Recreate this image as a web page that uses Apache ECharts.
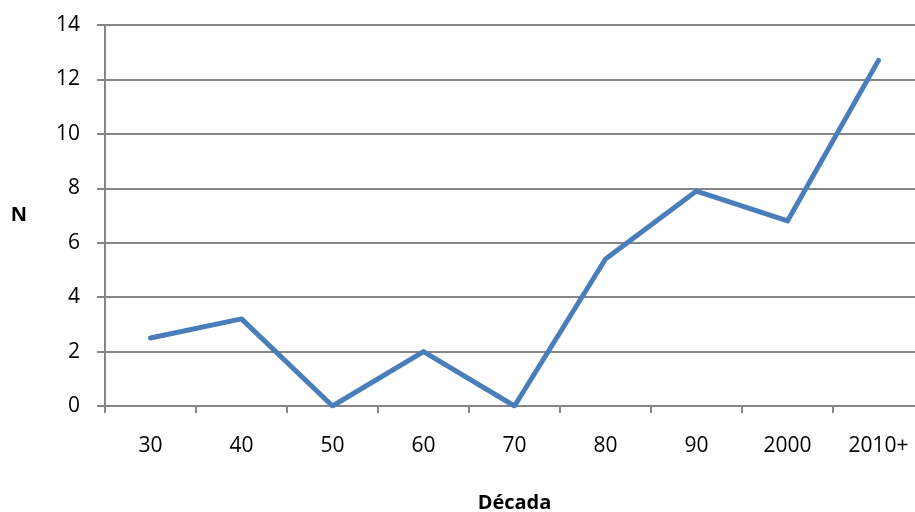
<!DOCTYPE html>
<html><head><meta charset="utf-8">
<script src="https://cdn.jsdelivr.net/npm/echarts@6/dist/echarts.min.js"></script>
<style>html,body{margin:0;padding:0;background:#fff}#c{width:915px;height:512px}</style>
</head><body><div id="c"></div>
<script>
const categories = ['30','40','50','60','70','80','90','2000','2010+'];
const values = [2.5, 3.2, 0, 2, 0, 5.4, 7.9, 6.8, 12.7];
const yTicks = {min: 0, max: 14, interval: 2};
const xTitle = 'Década';
const yTitle = 'N';

const chart = echarts.init(document.getElementById('c'), null, {renderer: 'canvas'});
const font = '"Open Sans", sans-serif';
chart.setOption({
  animation: false,
  grid: {left: 105, right: -9, top: 25, bottom: 106, containLabel: false, outerBoundsMode: 'none'},
  xAxis: {
    type: 'category', data: categories, boundaryGap: true,
    axisLine: {lineStyle: {color: '#868686', width: 2}},
    axisTick: {show: true, alignWithLabel: false, length: 7, lineStyle: {color: '#868686', width: 2}},
    axisLabel: {color: '#000', fontFamily: font, fontSize: 21, margin: 30},
    name: xTitle, nameLocation: 'middle', nameGap: 87,
    nameTextStyle: {color: '#000', fontFamily: font, fontSize: 20, fontWeight: 'bold'}
  },
  yAxis: {
    type: 'value', min: yTicks.min, max: yTicks.max, interval: yTicks.interval,
    axisLine: {show: true, lineStyle: {color: '#868686', width: 2}},
    axisTick: {show: true, length: 8, lineStyle: {color: '#868686', width: 2}},
    splitLine: {lineStyle: {color: '#868686', width: 2}},
    axisLabel: {color: '#000', fontFamily: font, fontSize: 21, margin: 25},
    name: yTitle, nameLocation: 'middle', nameGap: 78, nameRotate: 0,
    nameTextStyle: {color: '#000', fontFamily: font, fontSize: 20, fontWeight: 'bold', padding: [6, 0, 0, 0]}
  },
  series: [{
    type: 'line', data: values, symbol: 'none',
    lineStyle: {color: '#4a7ebb', width: 5, cap: 'round', join: 'round'}
  }]
});
</script></body></html>
